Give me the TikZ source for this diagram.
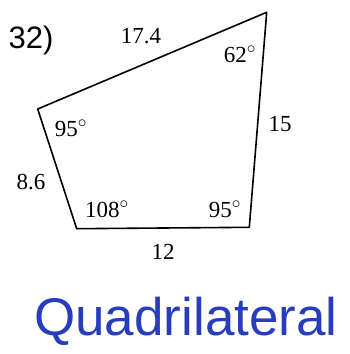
\documentclass[tikz,border=0pt]{standalone}
\usepackage{fontspec}
\setmainfont{Liberation Serif}
\newfontfamily\numfont{Liberation Sans}
\newfontfamily\handfont{Liberation Sans}
\usepackage{xcolor}
\usepackage{tikz}
\usetikzlibrary{positioning}

\definecolor{penblue}{RGB}{40,60,190}

\tikzset{
  side/.style={line width=1.6pt, line join=round},
  lbl/.style={font=\fontsize{23}{25}\selectfont, inner sep=0pt},
  anglbl/.style={lbl}
}

\begin{document}
\begin{tikzpicture}[x=1pt, y=-1pt]
				% Frame:
				\useasboundingbox (0, 0) rectangle (350, 354);
				
				% Corners of the quadrilateral:
				\coordinate (TR) at (266.7, 12.3);
				\coordinate (L) at (37.7, 109);
				\coordinate (BL) at (76.7, 228.7);
				\coordinate (BR) at (249.3, 227.3);
				
				\draw[side] (TR) -- (L) -- (BL) -- (BR) -- cycle;
				
				% Side lengths:
				\node[lbl] (sTop) at (141, 36){17.4};
				\node[lbl] (sRight) at (280, 124){15};
				\node[lbl] (sLeft) at (31, 182){8.6};
				\node[lbl] (sBottom) at (163, 252){12};
				
				% Angles:
				\node[anglbl] (aTR) at (240, 54){62$^\circ$};
				\node[anglbl] (aL) at (71, 128){95$^\circ$};
				\node[anglbl] (aBL) at (107, 209){108$^\circ$};
				\node[anglbl] (aBR) at (225, 209){95$^\circ$};
				
				% Number and name:
				\node[inner sep=0pt, font=\numfont\fontsize{31}{34}\selectfont] (num) at (31, 40){32)};
				\node[inner sep=0pt, text=penblue, font=\handfont\fontsize{53}{57}\selectfont] (name) at (186, 321){Quadrilateral};
			\end{tikzpicture}
\end{document}
